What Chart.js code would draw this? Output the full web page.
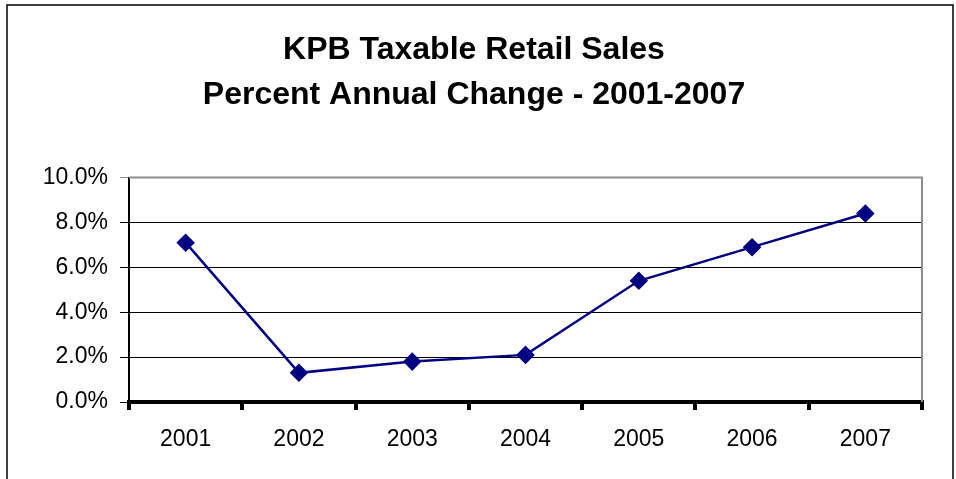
<!DOCTYPE html>
<html>
<head>
<meta charset="utf-8">
<script src="https://cdn.jsdelivr.net/npm/chart.js@4"></script>
<style>
  html, body { margin: 0; padding: 0; background: #fff; }
  canvas { display: block; }
</style>
</head>
<body>
<canvas id="line-chart" width="956" height="479"></canvas>
<script>
var years = ["2001", "2002", "2003", "2004", "2005", "2006", "2007"];
var pctChange = [7.1, 1.3, 1.8, 2.1, 5.4, 6.9, 8.4];
var titleLines = ["KPB Taxable Retail Sales", "Percent Annual Change - 2001-2007"];

Chart.defaults.font.family = "'Liberation Sans', Arial, sans-serif";
Chart.defaults.color = "#000";

// outer frame + gray plot border (top/right)
var framePlugin = {
  id: "frame",
  beforeDatasetsDraw: function(chart) {
    var ctx = chart.ctx, a = chart.chartArea;
    ctx.save();
    ctx.strokeStyle = "#8c8c8c";
    ctx.lineWidth = 2;
    ctx.beginPath();
    ctx.moveTo(a.left, a.top);
    ctx.lineTo(a.right, a.top);
    ctx.lineTo(a.right, a.bottom);
    ctx.stroke();
    ctx.restore();
  },
  afterDraw: function(chart) {
    var ctx = chart.ctx;
    ctx.save();
    ctx.strokeStyle = "#000";
    ctx.lineWidth = 1.5;
    ctx.strokeRect(7, 5, 946, 500);
    ctx.restore();
  }
};

var config = {
  type: "line",
  data: {
    labels: years,
    datasets: [
      {
        label: "Percent Annual Change",
        data: pctChange,
        borderColor: "#000080",
        backgroundColor: "#000080",
        borderWidth: 2.5,
        pointStyle: "rectRot",
        pointRadius: 7.5,
        pointHoverRadius: 7.5,
        tension: 0
      }
    ]
  },
  options: {
    responsive: false,
    animation: false,
    layout: { padding: { left: 26, right: 34, top: 0, bottom: 0 } },
    plugins: {
      legend: { display: false },
      tooltip: { enabled: false },
      title: {
        display: true,
        text: titleLines,
        color: "#000",
        font: { size: 32, weight: "bold", lineHeight: 1.4 },
        padding: { top: 28, bottom: 60 }
      }
    },
    scales: {
      x: {
        offset: true,
        grid: {
          offset: true,
          drawOnChartArea: false,
          color: "#000",
          lineWidth: 4,
          tickLength: 8
        },
        border: { display: true, color: "#000", width: 4 },
        ticks: { font: { size: 23 }, padding: 16 },
        afterFit: function(scale) { scale.height = 77; }
      },
      y: {
        min: 0,
        max: 10,
        ticks: {
          stepSize: 2,
          font: { size: 23 },
          padding: 12,
          callback: function(v) { return v.toFixed(1) + "%"; }
        },
        grid: {
          color: function(c) { return c.tick && c.tick.value === 10 ? "#8c8c8c" : "#000"; },
          lineWidth: 1,
          tickLength: 9
        },
        border: { display: true, color: "#000", width: 2 },
        afterFit: function(scale) { scale.width = 103; }
      }
    }
  },
  plugins: [framePlugin]
};

window.onload = function() {
  var ctx = document.getElementById("line-chart").getContext("2d");
  window.myLine = new Chart(ctx, config);
};
</script>
</body>
</html>
